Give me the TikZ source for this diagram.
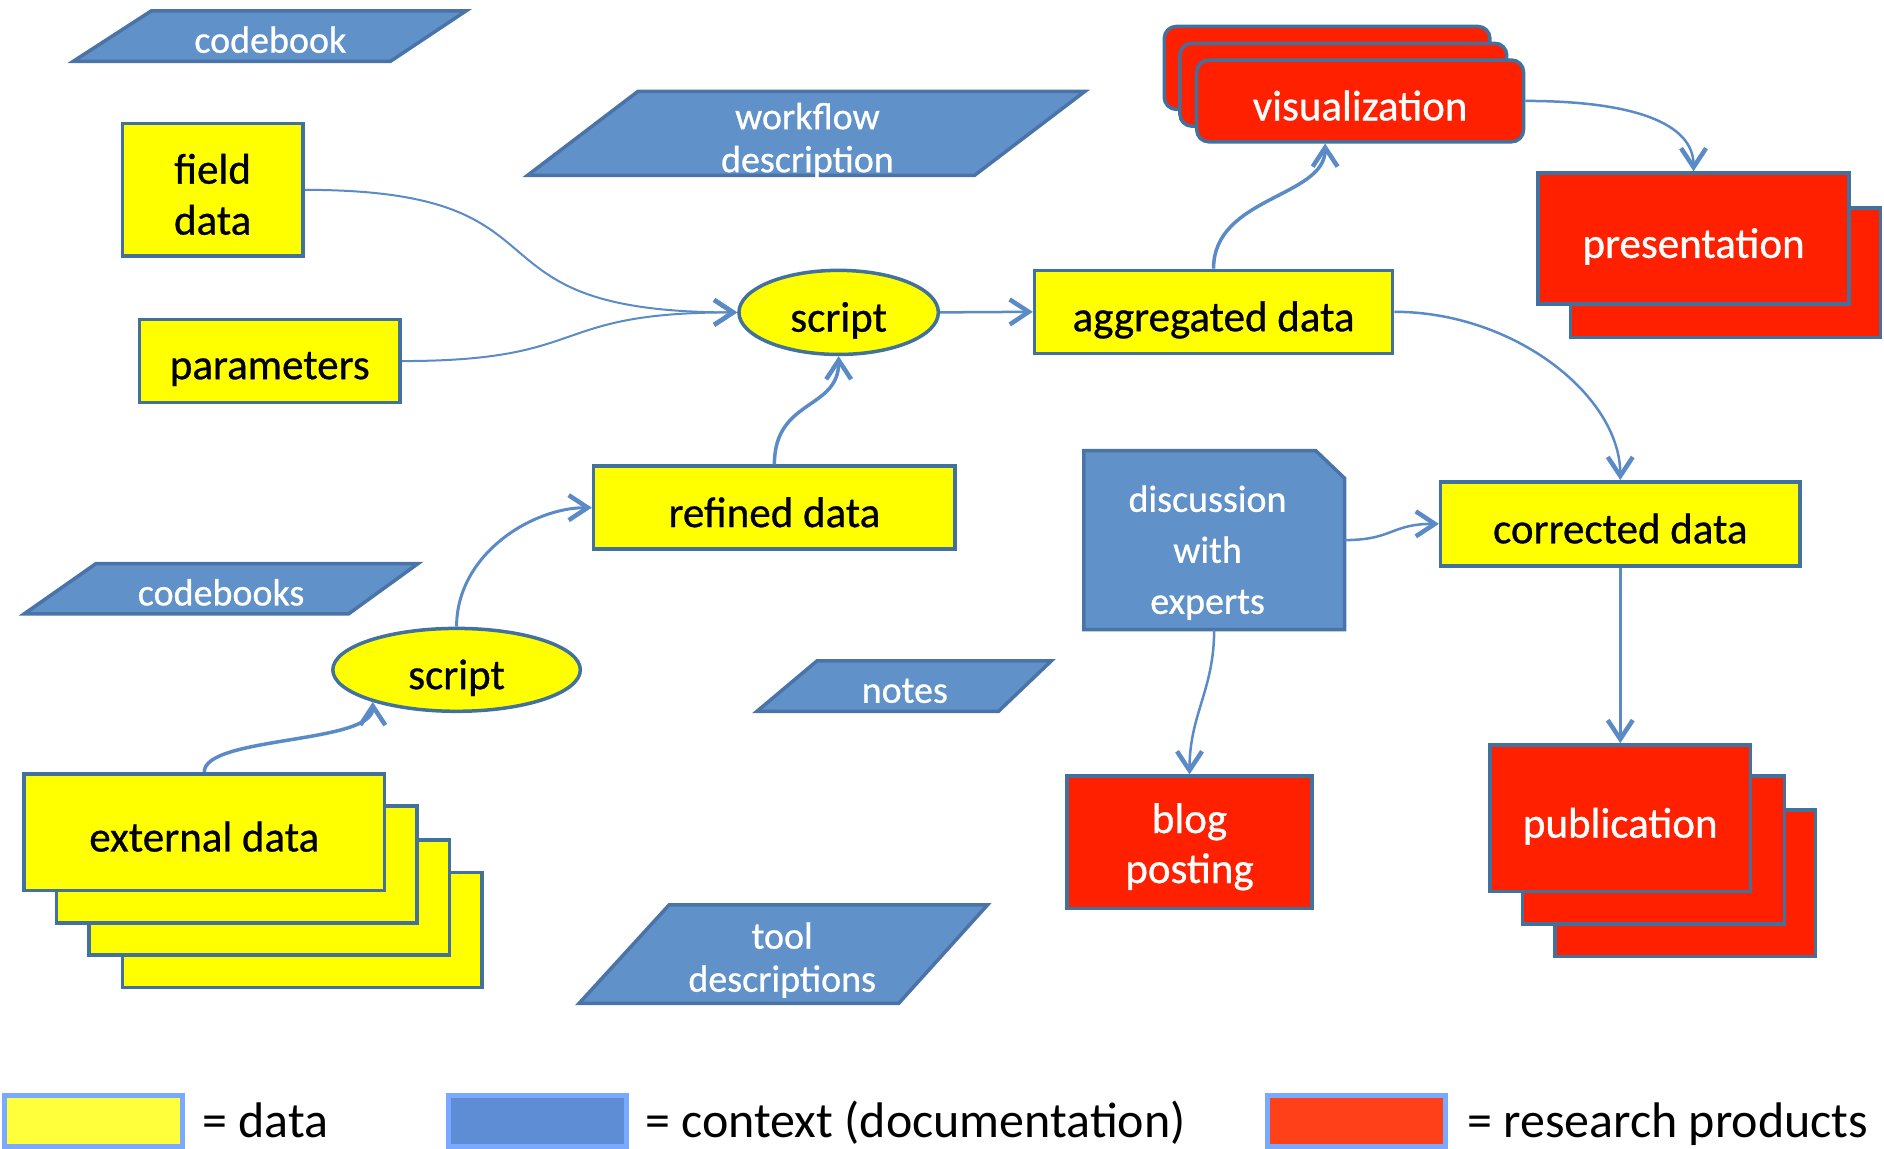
\documentclass[tikz,border=0pt]{standalone}
\usepackage{fontspec}
\setmainfont{Carlito}
\newfontfamily\boxfont{Carlito}[FakeBold=0.7]
\usetikzlibrary{shapes.geometric,arrows.meta}
\definecolor{datafill}{HTML}{FFFF00}
\definecolor{boxline}{HTML}{41719C}
\definecolor{ctxfill}{HTML}{6091C8}
\definecolor{ctxline}{HTML}{4A74A8}
\definecolor{prodfill}{HTML}{FF2000}
\definecolor{linkcol}{HTML}{5B8BC6}
\definecolor{legyellow}{HTML}{FFFF3C}
\definecolor{legblue}{HTML}{5E8CD5}
\definecolor{legred}{HTML}{FF4018}
\definecolor{legline}{HTML}{7AAAFF}
% box labels sit a little below the geometric centre
\newcommand{\lowtext}[1]{\raisebox{-4.5pt}[\height][\depth]{#1}}

\begin{document}
\begin{tikzpicture}[x=1.2015pt,y=-1.2015pt,
  boxbase/.style={draw=boxline, line width=3.5pt, inner sep=0pt, align=center},
  oneline/.style={text depth=0pt},
  databox/.style={boxbase, fill=datafill, text=black, font=\boxfont\fontsize{43}{51}\selectfont},
  prodbox/.style={boxbase, fill=prodfill, text=white, font=\boxfont\fontsize{43}{50}\selectfont},
  datalayer/.style={draw=boxline, line width=3.5pt, fill=datafill},
  prodlayer/.style={draw=boxline, line width=3.5pt, fill=prodfill},
  ctxshape/.style={draw=ctxline, line width=3.5pt, fill=ctxfill, line join=miter},
  ctxtext/.style={text=white, align=center, inner sep=0pt, font=\boxfont\fontsize{38}{43}\selectfont},
  scriptnode/.style={ellipse, draw=boxline, line width=3.5pt, fill=datafill, inner sep=0pt, text depth=0pt, font=\boxfont\fontsize{43}{51}\selectfont},
  link/.style={draw=linkcol, line width=2.5pt, -{Straight Barb[length=19pt,width=25pt,line width=4.5pt]}},
  legbox/.style={draw=legline, line width=5pt},
  legtext/.style={inner sep=0pt, anchor=base west, font=\fontsize{50}{60}\selectfont}]

\useasboundingbox (0,0) rectangle (1568,956);

% documentation (context) shapes
\draw[ctxshape] (126,9) -- (388,9) -- (325,51) -- (61,51) -- cycle;
\node[ctxtext] (codebook) at (225,33) {codebook};
\draw[ctxshape] (531,76) -- (903,76) -- (811,146) -- (439,146) -- cycle;
\node[ctxtext] (workflow) at (672,117) {workflow\\description};
\draw[ctxshape] (80,469) -- (348,469) -- (290,511) -- (20,511) -- cycle;
\node[ctxtext] (codebooks) at (184,493) {codebooks};
\draw[ctxshape] (680,550) -- (875,550) -- (831,592) -- (630,592) -- cycle;
\node[ctxtext] (notes) at (753,575) {notes};
\draw[ctxshape] (557,753) -- (822,753) -- (748,835) -- (482,835) -- cycle;
\node[ctxtext] (tools) at (651,799) {tool\\descriptions};

% discussion note with folded corner
\draw[ctxshape] (902,375) -- (1095,375) -- (1119,398) -- (1119,524) -- (902,524) -- cycle;
\node[minimum width=260.7pt, minimum height=179pt, inner sep=0pt] (disc) at (1010.5,449.5) {};
\node[ctxtext, font=\boxfont\fontsize{38}{51}\selectfont] (disctext) at (1005,460) {discussion\\with\\experts};

% data
\node[databox, minimum width=180.2pt, minimum height=132.2pt] (field) at (177,158) {\lowtext{field}\\\lowtext{data}};
\node[databox, oneline, minimum width=260.7pt, minimum height=82.9pt] (param) at (224.5,300.5) {\lowtext{parameters}};
\node[scriptnode, minimum width=199.4pt, minimum height=84.1pt] (script) at (698,260) {\lowtext{script}};
\node[databox, oneline, minimum width=358pt, minimum height=82.9pt] (agg) at (1010,259.5) {\lowtext{aggregated data}};
\node[databox, oneline, minimum width=361.7pt, minimum height=82.9pt] (refined) at (644.5,422.5) {\lowtext{refined data}};
\node[databox, oneline, minimum width=359.2pt, minimum height=84.1pt] (corr) at (1348.5,436) {\lowtext{corrected data}};
\node[scriptnode, minimum width=247.5pt, minimum height=82.9pt] (script2) at (380,557.5) {\lowtext{script}};

\draw[datalayer] (102,726) rectangle (401,822);
\draw[datalayer] (74,699) rectangle (374,795);
\draw[datalayer] (47,671) rectangle (347,768);
\node[databox, oneline, minimum width=360.5pt, minimum height=116.5pt] (ext) at (170,692.5) {\lowtext{external data}};

% research products
\draw[prodlayer, rounded corners=12pt] (969,22) rectangle (1240,91);
\draw[prodlayer, rounded corners=12pt] (982,36) rectangle (1254,105);
\node[prodbox, oneline, rounded corners=12pt, minimum width=326.8pt, minimum height=81.7pt] (viz) at (1132,84) {\lowtext{visualization}};

\draw[prodlayer] (1307,173) rectangle (1565,281);
\node[prodbox, oneline, minimum width=311.2pt, minimum height=131pt] (pres) at (1409.5,198.5) {\lowtext{presentation}};

\node[prodbox, minimum width=245.1pt, minimum height=132.2pt] (blog) at (990,701) {\lowtext{blog}\\\lowtext{posting}};

\draw[prodlayer] (1294,674) rectangle (1511,796);
\draw[prodlayer] (1267,646) rectangle (1485,769);
\node[prodbox, oneline, minimum width=260.7pt, minimum height=146.6pt] (pub) at (1348.5,681) {\lowtext{publication}};

% connectors
\draw[link, line width=2pt] (field.east) .. controls +(235,0) and +(-240,0) .. (script.west);
\draw[link, line width=2pt] (param.east) .. controls +(160,0) and +(-160,0) .. (script.west);
\draw[link] (script.east) -- (agg.west);
\draw[link, line width=3.5pt] (refined.north) .. controls +(0,-55) and +(0,45) .. (script.south);
\draw[link, line width=3pt] (script2.north) .. controls +(0,-60) and +(-50,0) .. (refined.west);
\draw[link, line width=3.5pt] (ext.north) .. controls +(0,-30) and +(0,35) .. (script2.201);
\draw[link, line width=3.5pt] (agg.north) .. controls +(0,-60) and +(0,45) .. ([xshift=-35pt]viz.south);
\draw[link] (viz.east) .. controls +(90,0) and +(0,-40) .. (pres.north);
\draw[link] (agg.east) .. controls +(100,0) and +(0,-70) .. (corr.north);
\draw[link] (disc.east) .. controls +(40,0) and +(-40,0) .. (corr.west);
\draw[link] (disc.south) .. controls +(0,50) and +(0,-50) .. (blog.north);
\draw[link] (corr.south) -- (pub.north);

% legend
\draw[legbox, fill=legyellow] (4,912) rectangle (152,954);
\node[legtext] (legdata) at (168,947) {= data};
\draw[legbox, fill=legblue] (373,912) rectangle (521,954);
\node[legtext] (legctx) at (537,947) {= context (documentation)};
\draw[legbox, fill=legred] (1055,912) rectangle (1203,954);
\node[legtext] (legprod) at (1221,947) {= research products};
\end{tikzpicture}
\end{document}
